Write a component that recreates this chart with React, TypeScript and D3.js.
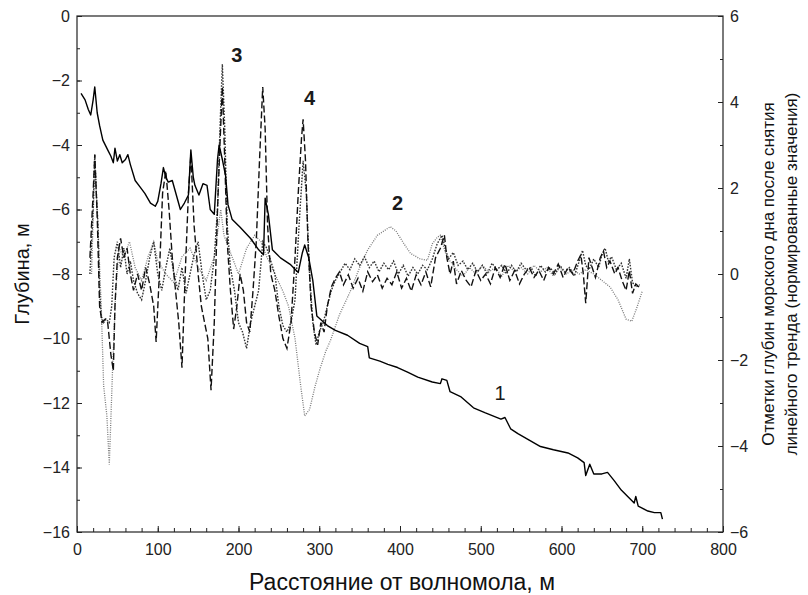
import React, { useEffect, useRef } from 'react';
import * as d3 from 'd3';

type Pt = [number, number];

const xTicks = [0, 100, 200, 300, 400, 500, 600, 700, 800];
const depthTicks = [0, -2, -4, -6, -8, -10, -12, -14, -16];
const normTicks = [6, 4, 2, 0, -2, -4, -6];

// 1: measured depth, m (left axis)
const depthProfile: Pt[] = [
  [5, -2.4], [10, -2.6], [14, -2.9], [17, -3.07], [20, -2.6], [22, -2.2], [25, -3.0], [28, -3.4],
  [32, -3.85], [38, -4.15], [42, -4.35], [45, -4.55], [47, -4.1], [50, -4.5], [53, -4.3], [56, -4.55],
  [60, -4.45], [63, -4.3], [66, -4.6], [72, -5.1], [78, -5.3], [84, -5.5], [91, -5.8], [97, -5.9],
  [100, -5.75], [104, -5.2], [107, -4.7], [110, -5.0], [113, -5.15], [118, -5.1], [123, -5.55],
  [128, -6.0], [133, -5.8], [138, -5.55], [141, -4.15], [144, -5.0], [146, -5.25], [151, -5.55],
  [156, -5.2], [161, -5.25], [165, -6.0], [170, -6.15], [174, -4.45], [176, -4.0], [180, -4.45],
  [184, -4.95], [187, -5.85], [192, -6.3], [202, -6.55], [215, -6.9], [225, -7.25], [231, -7.4],
  [233, -5.65], [237, -6.15], [242, -7.25], [252, -7.5], [264, -7.7], [274, -7.95], [279, -7.35],
  [282, -7.1], [287, -7.5], [292, -8.2], [297, -9.3], [310, -9.6], [320, -9.75], [335, -9.9],
  [350, -10.15], [360, -10.25], [362, -10.6], [375, -10.7], [385, -10.8], [397, -10.9], [410, -11.05],
  [422, -11.2], [440, -11.35], [450, -11.4], [452, -11.25], [458, -11.3], [462, -11.65], [475, -11.8],
  [491, -12.15], [505, -12.3], [525, -12.5], [530, -12.45], [537, -12.8], [546, -12.95], [560, -13.15],
  [574, -13.35], [590, -13.45], [608, -13.55], [620, -13.7], [628, -13.85], [630, -14.25], [635, -13.9],
  [640, -14.2], [650, -14.2], [657, -14.15], [665, -14.4], [674, -14.7], [682, -14.9], [690, -15.1],
  [692, -14.9], [695, -15.2], [707, -15.35], [715, -15.4], [723, -15.4], [725, -15.6],
];

// 2..4: detrended, normalized (right axis)
const detrended2: Pt[] = [
  [18, 0], [22, 2.6], [26, 1.1], [30, -0.75], [33, -2.6], [37, -3.3], [40, -4.43], [44, -2.25],
  [48, -0.4], [52, 0.6], [58, 0.4], [65, 0.75], [72, 0.15], [80, -0.15], [88, 0.4], [95, 0.75],
  [100, 0.3], [110, 0], [120, -0.2], [130, 0.4], [140, 0.6], [150, 0.15], [160, -0.15], [170, 0.4],
  [178, 1.5], [182, 0.9], [190, 0.5], [200, 0], [210, 0.6], [220, 0.9], [228, 0.75], [235, 0.4],
  [245, 0], [255, -0.4], [262, -0.75], [270, -1.5], [277, -2.6], [282, -3.3], [288, -3.15],
  [295, -2.6], [301, -2.2], [308, -1.8], [314, -1.54], [325, -0.95], [339, -0.38], [350, 0.15],
  [360, 0.56], [372, 0.9], [380, 1.0], [388, 1.1], [395, 1.0], [405, 0.7], [413, 0.48], [425, 0.35],
  [434, 0.32], [440, 0.7], [446, 0.85], [450, 0.9], [456, 0.5], [462, 0.3], [470, 0.1], [478, -0.05],
  [486, 0.15], [494, 0], [502, 0.2], [510, 0.05], [518, 0.15], [526, -0.05], [534, 0.2], [542, 0.05],
  [550, 0.15], [558, 0], [566, 0.2], [574, 0.05], [582, 0.15], [590, -0.05], [598, 0.15], [606, 0],
  [614, 0.1], [622, 0], [630, 0.1], [640, 0], [650, -0.15], [660, -0.3], [670, -0.6], [680, -1.05],
  [687, -1.1], [693, -0.8], [700, -0.4],
];

const detrended3: Pt[] = [
  [16, 0], [20, 1.5], [22, 2.78], [24, 1.88], [26, 1.13], [28, -0.38], [30, -0.98], [33, -1.13],
  [36, -1.05], [40, -1.13], [43, -0.75], [46, 0.38], [50, 0.75], [54, 0.15], [58, 0.6], [62, 0],
  [66, 0.3], [70, -0.15], [75, -0.45], [80, -0.6], [85, -0.15], [90, 0.38], [95, 0.75], [100, 0],
  [105, -0.38], [110, 0.15], [115, 0.6], [120, 0], [125, -0.38], [130, 0.15], [135, -0.45], [140, 0],
  [145, 0.45], [150, 0.75], [155, 0], [160, -0.6], [165, -0.38], [170, 0.38], [174, 1.5], [177, 3.38],
  [180, 4.88], [183, 3.38], [186, 1.13], [190, 0.15], [195, -0.38], [200, -1.13], [205, -1.35],
  [210, -1.73], [215, -1.13], [220, -0.75], [225, -0.38], [230, 0.75], [235, 0.6], [240, 0.3],
  [245, 0], [250, -0.75], [255, -1.2], [260, -1.35], [265, -1.13], [270, -0.6], [275, 1.13],
  [280, 2.63], [284, 1.88], [288, 0], [292, -1.13], [296, -1.65], [300, -1.35], [305, -1.13],
  [310, -0.75], [315, -0.38], [320, -0.15], [326, 0.05], [332, 0.25], [338, 0.1], [344, 0.35],
  [350, 0.2], [356, 0.4], [362, 0.15], [368, 0.3], [374, 0.05], [380, 0.25], [386, 0.1], [392, 0.3],
  [398, 0], [404, 0.2], [410, -0.05], [416, 0.15], [422, 0], [428, 0.2], [434, 0.1], [440, 0.35],
  [446, 0.7], [452, 0.9], [456, 0.6], [460, 0.35], [466, 0.5], [472, 0.2], [478, 0.3], [484, 0.1],
  [490, 0.25], [496, 0.05], [502, 0.2], [508, 0], [514, 0.25], [520, 0.1], [526, 0.2], [532, 0],
  [538, 0.2], [544, 0.05], [550, 0.25], [556, 0.1], [562, 0.15], [568, -0.05], [574, 0.2], [580, 0.05],
  [586, 0.15], [592, 0], [598, 0.2], [604, 0.05], [610, 0.15], [616, -0.05], [622, 0.3], [626, 0.55],
  [630, 0.2], [634, 0.1], [640, 0.35], [646, 0.15], [650, 0.45], [654, 0.6], [658, 0.3], [662, 0.4],
  [668, 0.1], [674, 0.25], [680, -0.1], [684, 0.35], [688, -0.2], [692, -0.3], [697, -0.25],
];

const detrended4: Pt[] = [
  [16, 0.38], [20, 1.88], [22, 2.78], [25, 1.35], [28, -0.75], [31, -1.13], [35, -1.05], [38, -1.13],
  [42, -1.88], [45, -2.25], [47, -0.75], [50, 0.38], [54, 0.83], [58, 0.38], [62, 0.6], [66, 0],
  [70, -0.38], [75, 0], [80, -0.38], [85, 0.15], [90, -0.23], [95, -0.75], [98, -1.58], [102, 0],
  [106, 1.88], [110, 2.4], [114, 1.5], [118, 0.38], [122, -0.38], [126, -1.13], [130, -2.18], [134, 0],
  [138, 1.88], [141, 2.78], [145, 1.13], [150, 0], [154, -0.75], [158, -1.13], [162, -1.5],
  [166, -2.7], [170, -1.13], [174, 1.5], [177, 3.0], [180, 4.35], [183, 2.63], [186, 0.75],
  [190, -0.38], [194, -1.28], [198, -0.75], [202, 0], [206, -0.38], [210, -1.13], [214, -1.35],
  [218, -0.38], [222, 0.75], [226, 2.63], [230, 4.35], [233, 3.38], [236, 1.13], [240, 0],
  [245, -0.38], [250, -0.98], [255, -1.5], [260, -1.73], [265, -1.13], [270, 0.38], [274, 1.88],
  [278, 3.15], [280, 3.6], [283, 2.63], [286, 0.75], [290, -0.75], [294, -1.35], [298, -1.65],
  [302, -1.13], [306, -1.35], [310, -0.75], [315, -0.3], [320, -0.1], [325, 0.05], [330, -0.25],
  [336, -0.02], [342, -0.33], [348, -0.1], [354, -0.4], [360, 0.05], [366, -0.18], [372, -0.02],
  [378, -0.33], [384, -0.1], [390, -0.25], [396, 0.05], [402, -0.33], [408, -0.1], [414, -0.4],
  [420, -0.02], [426, -0.25], [432, 0.05], [438, -0.3], [444, 0.38], [450, 0.6], [455, 0.9],
  [458, 0.38], [462, 0], [466, 0.3], [470, -0.23], [476, 0.08], [482, -0.15], [488, -0.3], [494, 0.08],
  [500, -0.15], [506, 0], [512, -0.23], [518, 0.15], [524, -0.08], [530, 0.23], [536, -0.15],
  [542, 0.08], [548, -0.23], [554, 0], [560, 0.15], [566, -0.08], [572, 0.08], [578, -0.15],
  [584, 0.15], [590, 0], [596, 0.23], [602, -0.08], [608, 0.15], [614, 0], [620, 0.3], [624, 0.45],
  [627, 0], [630, -0.68], [634, 0.38], [638, 0.15], [642, -0.08], [648, 0.38], [652, 0.53],
  [656, 0.15], [660, 0.3], [666, 0], [670, 0.15], [675, -0.15], [680, -0.38], [684, 0.08],
  [688, -0.45], [692, -0.23], [696, -0.3],
];

// curve numbers, anchored in (distance, depth) units
const curveLabels: { text: string; at: Pt; bold: boolean }[] = [
  { text: '3', at: [198, -1.2], bold: true },
  { text: '4', at: [288, -2.55], bold: true },
  { text: '2', at: [397, -5.8], bold: true },
  { text: '1', at: [524, -11.7], bold: false },
];

const W = 808;
const H = 595;
const margin = { top: 16, right: 85, bottom: 63, left: 77 };
const FONT = '"Liberation Sans", Arial, sans-serif';

const App: React.FC = () => {
  const svgRef = useRef<SVGSVGElement>(null);

  useEffect(() => {
    if (!svgRef.current) return;
    const svg = d3.select(svgRef.current);
    svg.selectAll('*').remove();

    const x0 = margin.left;
    const x1 = W - margin.right;
    const y0 = margin.top;
    const y1 = H - margin.bottom;

    const xScale = d3.scaleLinear().domain([0, 800]).range([x0, x1]);
    const yLeft = d3.scaleLinear().domain([-16, 0]).range([y1, y0]);
    const yRight = d3.scaleLinear().domain([-6, 6]).range([y1, y0]);

    const g = svg.append('g').attr('font-family', FONT);

    // frame
    g.append('rect')
      .attr('x', x0)
      .attr('y', y0)
      .attr('width', x1 - x0)
      .attr('height', y1 - y0)
      .attr('fill', 'none')
      .attr('stroke', '#222')
      .attr('stroke-width', 1.2);

    const styleAxis = (sel: d3.Selection<SVGGElement, unknown, null, undefined>) => {
      sel.select('.domain').remove();
      sel.selectAll('line').attr('stroke', '#222');
      sel.selectAll('text').attr('font-size', 16).attr('fill', '#222').attr('font-family', FONT);
    };

    // bottom axis
    g.append('g')
      .attr('transform', `translate(0,${y1})`)
      .call(d3.axisBottom(xScale).tickValues(d3.range(0, 801, 20)).tickFormat(() => '').tickSize(-4).tickSizeOuter(0))
      .call(styleAxis);
    g.append('g')
      .attr('transform', `translate(0,${y1})`)
      .call(d3.axisBottom(xScale).tickValues(xTicks).tickFormat(d3.format('d')).tickSize(-6).tickPadding(12).tickSizeOuter(0))
      .call(styleAxis);

    // left axis
    g.append('g')
      .attr('transform', `translate(${x0},0)`)
      .call(d3.axisLeft(yLeft).tickValues(d3.range(-16, 1, 1)).tickFormat(() => '').tickSize(-3).tickSizeOuter(0))
      .call(styleAxis);
    g.append('g')
      .attr('transform', `translate(${x0},0)`)
      .call(d3.axisLeft(yLeft).tickValues(depthTicks).tickFormat(d3.format('d')).tickSize(-5).tickPadding(7).tickSizeOuter(0))
      .call(styleAxis);

    // right axis
    g.append('g')
      .attr('transform', `translate(${x1},0)`)
      .call(d3.axisRight(yRight).tickValues(d3.range(-6, 7, 1)).tickFormat(() => '').tickSize(-3).tickSizeOuter(0))
      .call(styleAxis);
    g.append('g')
      .attr('transform', `translate(${x1},0)`)
      .call(d3.axisRight(yRight).tickValues(normTicks).tickFormat(d3.format('d')).tickSize(-5).tickPadding(7).tickSizeOuter(0))
      .call(styleAxis);

    const plot = g.append('g');

    const lineLeft = d3.line<Pt>().x((d) => xScale(d[0])).y((d) => yLeft(d[1]));
    const lineRight = d3.line<Pt>().x((d) => xScale(d[0])).y((d) => yRight(d[1]));

    plot.append('path')
      .datum(detrended2)
      .attr('fill', 'none')
      .attr('stroke', '#7a7a7a')
      .attr('stroke-width', 1.3)
      .attr('stroke-dasharray', '1,1.3')
      .attr('d', lineRight);

    plot.append('path')
      .datum(detrended3)
      .attr('fill', 'none')
      .attr('stroke', '#333')
      .attr('stroke-width', 1.4)
      .attr('stroke-dasharray', '1.6,1.4')
      .attr('d', lineRight);

    plot.append('path')
      .datum(detrended4)
      .attr('fill', 'none')
      .attr('stroke', '#111')
      .attr('stroke-width', 1.4)
      .attr('stroke-dasharray', '7,3')
      .attr('d', lineRight);

    plot.append('path')
      .datum(depthProfile)
      .attr('fill', 'none')
      .attr('stroke', '#000')
      .attr('stroke-width', 1.4)
      .attr('stroke-linejoin', 'round')
      .attr('d', lineLeft);

    // curve numbers
    g.selectAll('.curve-label')
      .data(curveLabels)
      .enter()
      .append('text')
      .attr('class', 'curve-label')
      .attr('x', (d) => xScale(d.at[0]))
      .attr('y', (d) => yLeft(d.at[1]))
      .attr('text-anchor', 'middle')
      .attr('dominant-baseline', 'central')
      .attr('font-size', 20)
      .attr('font-weight', (d) => (d.bold ? 'bold' : 'normal'))
      .attr('fill', '#1a1a1a')
      .text((d) => d.text);

    // axis titles
    g.append('text')
      .attr('x', 402)
      .attr('y', 582)
      .attr('text-anchor', 'middle')
      .attr('dominant-baseline', 'central')
      .attr('font-size', 23)
      .attr('fill', '#111')
      .text('Расстояние от волномола, м');

    g.append('text')
      .attr('transform', `translate(22,${(y0 + y1) / 2}) rotate(-90)`)
      .attr('text-anchor', 'middle')
      .attr('dominant-baseline', 'central')
      .attr('font-size', 20)
      .attr('fill', '#111')
      .text('Глубина, м');

    const rightTitle = g.append('text')
      .attr('transform', `translate(768,${(y0 + y1) / 2}) rotate(-90)`)
      .attr('text-anchor', 'middle')
      .attr('font-size', 17)
      .attr('fill', '#111');
    rightTitle.append('tspan').attr('x', 0).attr('dy', '0.35em').text('Отметки глубин морского дна после снятия');
    rightTitle.append('tspan').attr('x', 0).attr('dy', '1.35em').text('линейного тренда (нормированные значения)');
  }, []);

  return (
    <svg
      ref={svgRef}
      width={W}
      height={H}
      style={{ position: 'absolute', left: 0, top: 0, background: '#fff' }}
    />
  );
};

export default App;
